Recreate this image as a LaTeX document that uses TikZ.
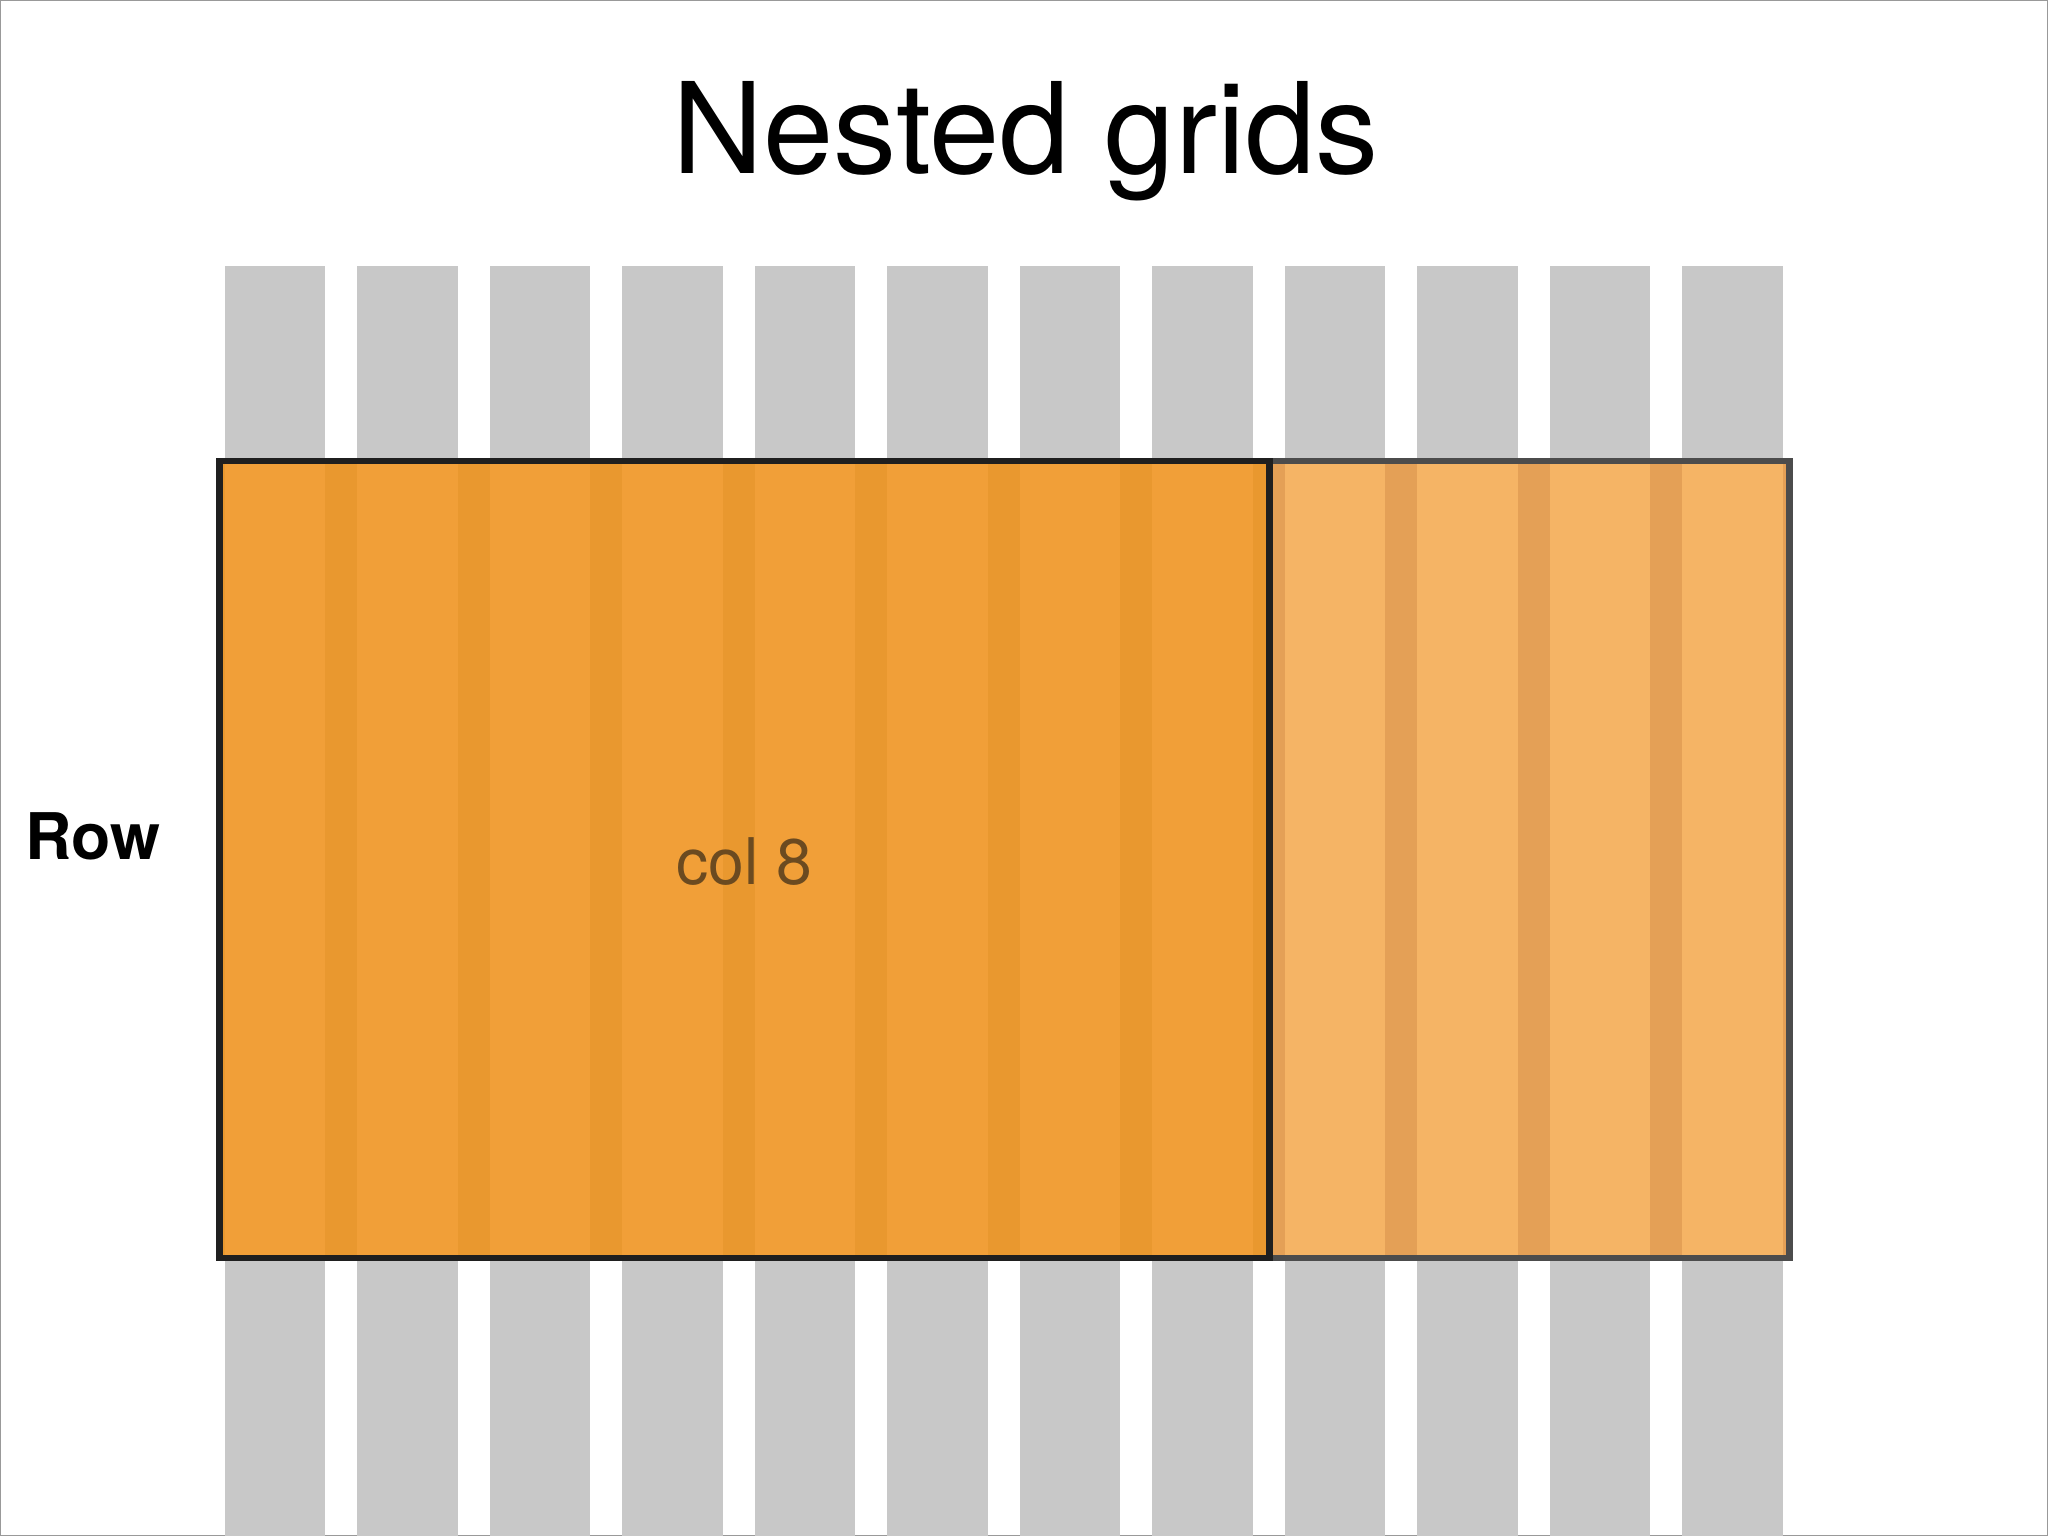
\documentclass[tikz,border=0pt]{standalone}
\usepackage{fontspec}
\setmainfont{TeX Gyre Heros}
\begin{document}
\begin{tikzpicture}[x=0.01cm,y=-0.01cm,
  col/.style={fill=black!21.5},
  lbl/.style={inner sep=0pt}]
\useasboundingbox (0,0) rectangle (1568,1176);
\draw[black!40,line width=0.5pt] (0,0) rectangle (1568,1176);
\foreach \i in {0,...,11}{
  \fill[col] ({172+101.45*\i},204) rectangle ({249+101.45*\i},1176);
}
% left part
\fill[color={rgb,255:red,233;green,152;blue,47}] (168,353) rectangle (972,963);
\foreach \i in {0,...,7}{
  \fill[color={rgb,255:red,241;green,159;blue,56}] ({172+101.45*\i},353) rectangle ({249+101.45*\i},963);
}
% right part
\fill[color={rgb,255:red,228;green,160;blue,86}] (972,353) rectangle (1370,963);
\foreach \i in {8,...,11}{
  \fill[color={rgb,255:red,245;green,180;blue,101}] ({172+101.45*\i},353) rectangle ({249+101.45*\i},963);
}
\draw[black!70,line width=1.4pt] (972,353) rectangle (1370,963);
\draw[black!88,line width=1.4pt] (168,353) rectangle (972,963);
\node[lbl,font=\fontsize{27.5}{30}\selectfont] (title) at (785,108) {Nested grids};
\node[lbl,font=\fontsize{14}{16}\selectfont\bfseries] (row) at (71,640) {Row};
\node[lbl,font=\fontsize{14}{16}\selectfont,text={rgb,255:red,107;green,74;blue,32}] (c8) at (570,660) {col 8};
\end{tikzpicture}
\end{document}
